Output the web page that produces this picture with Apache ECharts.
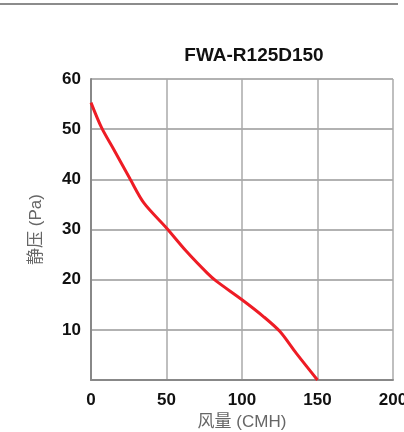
<!DOCTYPE html>
<html>
<head>
    <meta charset="UTF-8">
    <title>FWA-R125D150</title>
    <style type="text/css">
        * { margin: 0; padding: 0; }
        html, body { width: 100%; height: 100%; background: #fff; }
        #topline { position: absolute; left: 0; top: 3px; width: 398px; height: 2px; background: #8c8c8c; }
        #chart { width: 404px; height: 432px; }
    </style>
</head>
<body>
    <div id="topline"></div>
    <div id="chart"></div>
    <script src="https://cdn.jsdelivr.net/npm/echarts@6/dist/echarts.min.js"></script>
    <script>
        // 风量 (CMH) / 静压 (Pa)
        const flow = [0, 7, 15, 26, 35, 50, 63, 77, 83, 100, 114, 125, 136, 150];
        const pressure = [55.3, 50.3, 46, 40, 35.3, 30.3, 25.7, 21.3, 19.7, 16, 12.7, 9.7, 5.3, 0];
        const xTicks = [0, 50, 100, 150, 200];
        const yTicks = [0, 10, 20, 30, 40, 50, 60];

        const chart = echarts.init(document.getElementById('chart'));
        const labelFont = {
            color: '#111',
            fontWeight: 'bold',
            fontSize: 17,
            fontFamily: 'Liberation Sans, Arial, sans-serif'
        };
        const nameFont = {
            color: '#666',
            fontSize: 17,
            fontFamily: 'Liberation Sans, Noto Sans CJK SC, sans-serif'
        };
        chart.setOption({
            animation: false,
            title: {
                text: 'FWA-R125D150',
                left: 249,
                top: 41,
                textAlign: 'center',
                textStyle: {
                    color: '#111',
                    fontWeight: 'bold',
                    fontSize: 19,
                    fontFamily: 'Liberation Sans, Arial, sans-serif'
                }
            },
            grid: {
                left: 91,
                right: 11,
                top: 79,
                bottom: 52,
                outerBoundsMode: 'none'
            },
            xAxis: {
                type: 'value',
                min: xTicks[0],
                max: xTicks[xTicks.length - 1],
                interval: 50,
                name: '风量 (CMH)',
                nameLocation: 'middle',
                nameGap: 30,
                nameTextStyle: nameFont,
                axisLine: { show: true, lineStyle: { color: '#888', width: 2 } },
                axisTick: { show: false },
                axisLabel: Object.assign({ margin: 12 }, labelFont),
                splitLine: { show: true, lineStyle: { color: '#aaa', width: 1.5 } }
            },
            yAxis: {
                type: 'value',
                min: yTicks[0],
                max: yTicks[yTicks.length - 1],
                interval: 10,
                name: '静压 (Pa)',
                nameLocation: 'middle',
                nameGap: 46,
                nameTextStyle: nameFont,
                axisLine: { show: true, lineStyle: { color: '#888', width: 2 } },
                axisTick: { show: false },
                axisLabel: Object.assign({
                    margin: 10,
                    formatter: v => (v === 0 ? '' : String(v))
                }, labelFont),
                splitLine: { show: true, lineStyle: { color: '#999', width: 1.5 } }
            },
            series: [{
                type: 'line',
                data: flow.map((x, i) => [x, pressure[i]]),
                smooth: 0.3,
                showSymbol: false,
                lineStyle: { color: '#ee1c25', width: 3 }
            }]
        });
    </script>
</body>
</html>
